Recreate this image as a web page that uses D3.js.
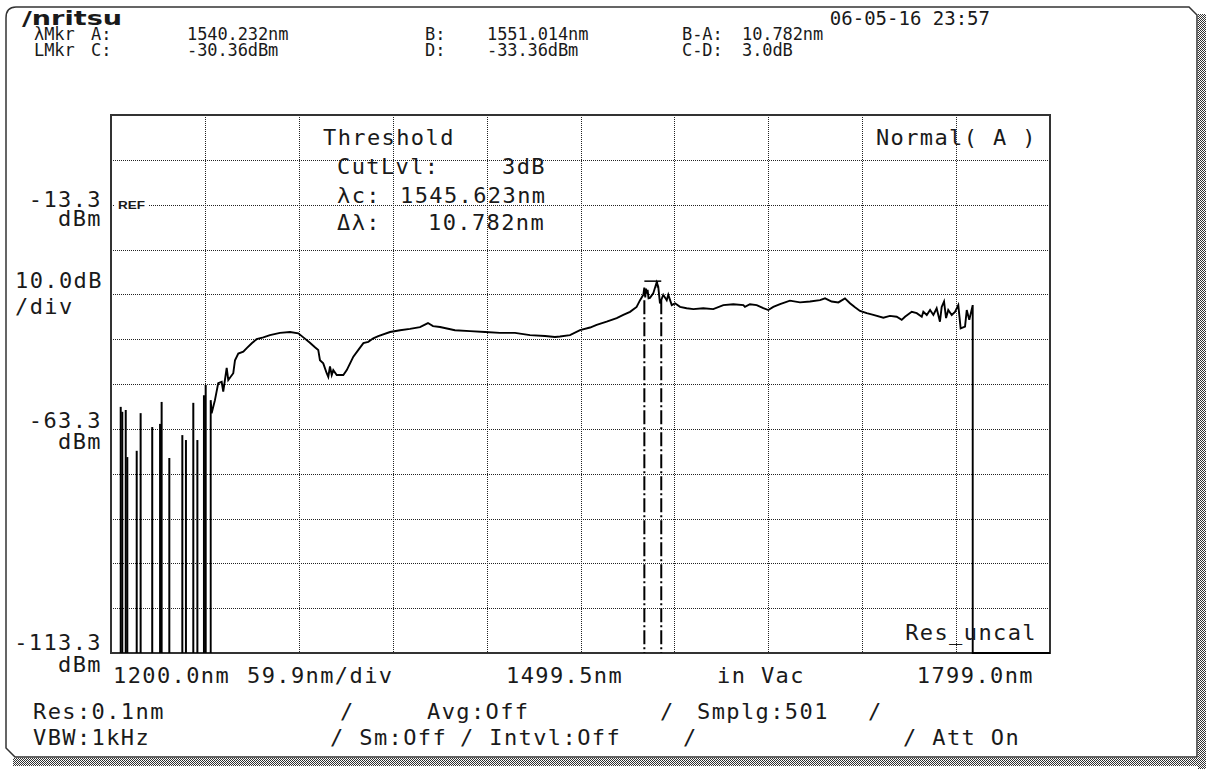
<!DOCTYPE html>
<html lang="en">
<head>
<meta charset="UTF-8">
<title>Optical Spectrum</title>
<script src="https://cdn.jsdelivr.net/npm/d3@7"></script>
<style>
  body { margin: 0; background: #fff; }
  text { font-family: "DejaVu Sans Mono", monospace; fill: #1a1a1a; }
  .grid line { stroke: #222; stroke-width: 1; stroke-dasharray: 1,1; shape-rendering: crispEdges; }
  .trace { fill: none; stroke: #000; stroke-width: 1.9; stroke-linejoin: miter; }
  .spike { stroke: #000; stroke-width: 2; }
  .mkr { stroke: #000; stroke-width: 2; stroke-dasharray: 14,3,2,3; }
  .big { font-size: 22px; letter-spacing: 1.4px; }
  .small { font-size: 17px; letter-spacing: -0.1px; }
</style>
</head>
<body>
<svg id="chart" width="1206" height="769"></svg>
<script>
// sweep: 1200.0 .. 1799.0 nm, 59.9 nm/div; REF -13.3 dBm, 10 dB/div
var xDomain = [1200, 1799];
var yDomain = [-113.3, 6.7];

// noise spikes at the short-wavelength end (nm, dBm)
var spikeWl = [1206.2, 1207.2, 1209.4, 1210.4, 1216.4, 1218.9, 1226.3, 1231.3,
               1232.3, 1237.2, 1245.5, 1247.8, 1252.5, 1255.1, 1259.3, 1260.4];
var spikeTop = [-58.4, -59.5, -59.1, -69.6, -68.2, -59.8, -62.9, -62.2,
                -57.3, -69.8, -64.7, -65.8, -57.5, -65.8, -55.8, -53.5];

// main trace vertices (nm, dBm); -115 = below screen
var traceWl = [1263.6, 1263.6, 1264.2, 1266.3, 1268.4, 1270.6, 1271.6, 1273.8, 1274.8, 1278.0,
  1279.1, 1281.2, 1284.4, 1286.6, 1289.8, 1292.9, 1297.2, 1301.4, 1307.8, 1314.2,
  1319.5, 1322.7, 1326.9, 1330.1, 1332.2, 1333.3, 1335.4, 1337.6, 1338.6, 1339.7,
  1340.8, 1341.8, 1344.0, 1348.2, 1350.4, 1352.5, 1354.6, 1357.8, 1361.0, 1364.1,
  1367.3, 1370.5, 1378.0, 1384.4, 1390.7, 1397.1, 1402.2, 1405.4, 1409.9, 1419.4,
  1429.0, 1438.6, 1448.1, 1457.7, 1467.3, 1476.9, 1483.2, 1486.4, 1492.8, 1499.2,
  1505.6, 1509.8, 1516.2, 1522.6, 1526.8, 1531.1, 1535.3, 1537.5, 1539.6, 1540.2,
  1540.8, 1541.3, 1541.7, 1542.3, 1542.9, 1543.8, 1545.9, 1548.1, 1549.1, 1550.2,
  1552.3, 1554.5, 1555.5, 1557.7, 1559.8,
  1563.0, 1567.2, 1571.5, 1577.8, 1584.2, 1590.6, 1597.0, 1603.4, 1604.4, 1607.6,
  1611.9, 1616.1, 1619.3, 1622.5, 1626.8, 1633.1, 1639.5, 1645.9, 1652.3, 1655.5,
  1659.7, 1664.0, 1668.2, 1671.4, 1674.6, 1677.8, 1682.1, 1686.3, 1692.7, 1696.9,
  1701.2, 1704.4, 1706.5, 1710.8, 1714.0, 1717.2, 1718.2, 1720.4, 1722.5, 1724.6,
  1726.7, 1728.8, 1729.9, 1731.4, 1732.7, 1734.1, 1736.3, 1738.4, 1740.5, 1742.0,
  1744.8, 1745.9, 1747.5, 1749.7, 1749.7, 1799.0];
var traceLvl = [-115, -56.9, -59.8, -56.9, -53.1, -52.8, -55.0, -49.7, -52.4, -50.9,
  -48.0, -46.5, -46.1, -45.3, -44.2, -43.3, -42.9, -42.4, -41.9, -41.7,
  -42.0, -42.9, -44.1, -45.1, -45.7, -48.0, -48.7, -50.9, -51.7, -49.4,
  -51.3, -50.2, -51.3, -51.3, -50.2, -48.7, -47.2, -45.7, -44.2, -43.9,
  -43.1, -42.6, -41.7, -41.3, -41.0, -40.6, -39.7, -40.4, -40.6, -41.3,
  -41.5, -41.7, -41.9, -41.9, -42.4, -42.6, -42.8, -42.7, -42.4, -41.3,
  -40.7, -40.1, -39.4, -38.6, -37.9, -37.2, -36.1, -34.6, -33.4, -31.8,
  -34.0, -32.0, -33.1, -32.3, -34.2, -34.1, -33.1, -30.6, -31.6, -35.3,
  -33.4, -34.6, -33.4, -35.7, -35.3,
  -36.1, -36.4, -36.6, -36.4, -36.6, -35.7, -35.5, -35.7, -36.1, -35.5,
  -35.7, -36.4, -36.8, -36.1, -35.5, -34.7, -35.1, -34.9, -34.6, -34.2,
  -34.9, -35.1, -34.2, -35.3, -36.2, -37.0, -37.5, -37.9, -38.5, -38.1,
  -38.3, -39.0, -38.3, -37.2, -37.5, -38.3, -37.2, -37.9, -36.8, -37.9,
  -36.4, -39.4, -36.1, -34.9, -38.6, -36.8, -37.9, -37.2, -35.7, -40.9,
  -40.5, -36.8, -39.0, -35.7, -115, -115];

// markers
var markerWl = [1540.232, 1551.014];   // A, B
var markerLvl = [-30.36, -33.36];      // C, D
var peakWl = 1548.5;

// screen texts
var headerRow1 = ["\u03bbMkr", "A:", "1540.232nm", "B:", "1551.014nm", "B-A:", "10.782nm"];
var headerRow2 = ["LMkr", "C:", "-30.36dBm", "D:", "-33.36dBm", "C-D:", "3.0dB"];
var thresholdLines = ["Threshold", "CutLvl:", "\u03bbc:", "\u0394\u03bb:"];
var thresholdValues = ["", "3dB", "1545.623nm", "10.782nm"];
var yLabels = ["-13.3", "dBm", "-63.3", "dBm", "-113.3", "dBm"];
var xLabels = ["1200.0nm", "59.9nm/div", "1499.5nm", "in Vac", "1799.0nm"];
var statusRow1 = ["Res:0.1nm", "/", "Avg:Off", "/", "Smplg:501", "/"];
var statusRow2 = ["VBW:1kHz", "/ Sm:Off", "/ Intvl:Off", "/", "/ Att On"];

var svg = d3.select("#chart");
var plotL = 111, plotT = 115, plotR = 1050, plotB = 653;

var x = d3.scaleLinear().domain(xDomain).range([plotL, plotR]);
var y = d3.scaleLinear().domain(yDomain).range([plotB, plotT]).clamp(true);

// checker shadow
var defs = svg.append("defs");
var pat = defs.append("pattern").attr("id", "hatch")
    .attr("width", 2).attr("height", 2).attr("patternUnits", "userSpaceOnUse");
pat.append("rect").attr("width", 2).attr("height", 2).attr("fill", "#fff");
pat.append("rect").attr("width", 1).attr("height", 1).attr("fill", "#333");
pat.append("rect").attr("x", 1).attr("y", 1).attr("width", 1).attr("height", 1).attr("fill", "#333");

svg.append("rect").attr("x", 1198).attr("y", 14).attr("width", 8).attr("height", 755).attr("fill", "url(#hatch)");
svg.append("rect").attr("x", 13).attr("y", 758).attr("width", 1193).attr("height", 8).attr("fill", "url(#hatch)");

// outer panel
svg.append("path")
    .attr("d", "M6,18 Q6,7 16,7 L1189,7 L1197,15 L1197,757 L15,757 L6,748 Z")
    .attr("fill", "#fff").attr("stroke", "#333").attr("stroke-width", 1.5);

// grid
var grid = svg.append("g").attr("class", "grid");
grid.selectAll(".vx").data(d3.range(1, 10)).enter().append("line")
    .attr("x1", function(i) { return Math.round(x(1200 + i * 59.9)) + 0.5; })
    .attr("x2", function(i) { return Math.round(x(1200 + i * 59.9)) + 0.5; })
    .attr("y1", plotT).attr("y2", plotB);
grid.selectAll(".hy").data(d3.range(1, 12)).enter().append("line")
    .attr("y1", function(i) { return Math.round(y(-113.3 + i * 10)) + 0.5; })
    .attr("y2", function(i) { return Math.round(y(-113.3 + i * 10)) + 0.5; })
    .attr("x1", plotL).attr("x2", plotR);

// REF tag
svg.append("rect").attr("x", plotL + 3).attr("y", y(-13.3) - 7).attr("width", 34).attr("height", 13).attr("fill", "#fff");
svg.append("text").attr("x", plotL + 7).attr("y", y(-13.3) + 4)
    .style("font-family", "Liberation Sans, Arial, sans-serif").style("font-size", "11px")
    .style("font-weight", "bold").attr("textLength", 27).attr("lengthAdjust", "spacingAndGlyphs")
    .text("REF");

// plot frame
svg.append("rect").attr("x", plotL).attr("y", plotT).attr("width", plotR - plotL).attr("height", plotB - plotT)
    .attr("fill", "none").attr("stroke", "#333").attr("stroke-width", 2);

// noise spikes
svg.selectAll(".spike").data(spikeWl).enter().append("line")
    .attr("class", "spike")
    .attr("x1", function(d) { return x(d); }).attr("x2", function(d) { return x(d); })
    .attr("y1", y(-115))
    .attr("y2", function(d, i) { return y(spikeTop[i]); });

// trace
var line = d3.line()
    .x(function(d) { return x(d[0]); })
    .y(function(d) { return y(d[1]); });
svg.append("path").attr("class", "trace")
    .attr("d", line(d3.zip(traceWl, traceLvl)));

// wavelength markers A / B
svg.selectAll(".mkr").data(markerWl).enter().append("line")
    .attr("class", "mkr")
    .attr("x1", function(d) { return x(d); }).attr("x2", function(d) { return x(d); })
    .attr("y1", y(-34.6)).attr("y2", plotB);

// peak cap at level C
svg.append("line").attr("x1", x(markerWl[0])).attr("x2", x(markerWl[1]))
    .attr("y1", y(markerLvl[0])).attr("y2", y(markerLvl[0]))
    .attr("stroke", "#000").attr("stroke-width", 1.5);
svg.append("line").attr("x1", x(peakWl)).attr("x2", x(peakWl))
    .attr("y1", y(markerLvl[0])).attr("y2", y(-31.8))
    .attr("stroke", "#000").attr("stroke-width", 1.5);

function put(t, xx, yy, cls, anchor) {
  return svg.append("text").attr("class", cls).attr("x", xx).attr("y", yy)
      .attr("text-anchor", anchor || "start").text(t);
}

// header
svg.append("text").attr("x", 22).attr("y", 25)
    .style("font-family", "DejaVu Sans, sans-serif").style("font-weight", "bold")
    .style("font-size", "19px").attr("textLength", 100).attr("lengthAdjust", "spacingAndGlyphs")
    .text("/nritsu");
put("06-05-16 23:57", 990, 25, "small", "end").style("font-size", "19px").style("letter-spacing", "0px");

var headerX = [34, 91, 187, 425, 487, 682, 742];
headerRow1.forEach(function(t, i) { put(t, headerX[i], 40, "small"); });
headerRow2.forEach(function(t, i) { put(t, headerX[i], 56, "small"); });

// threshold readout
var thrX = [323, 337, 337, 337], thrY = [145, 174, 203, 230], thrVX = [0, 502, 400, 428];
thresholdLines.forEach(function(t, i) {
  put(t, thrX[i], thrY[i], "big");
  if (thresholdValues[i]) put(thresholdValues[i], thrVX[i], thrY[i], "big");
});
put("Normal( A )", 1037, 145, "big", "end");
put("Res_uncal", 1037, 640, "big", "end");

// y axis labels
var yLabY = [207, 226, 428, 449, 650, 672];
yLabels.forEach(function(t, i) { put(t, 102, yLabY[i], "big", "end"); });
put("10.0dB", 15, 288, "big");
put("/div", 15, 314, "big");

// x labels
var xLabX = [113, 247, 506, 717, 1034];
xLabels.forEach(function(t, i) { put(t, xLabX[i], 683, "big", i === 4 ? "end" : "start"); });

// status rows
var st1X = [33, 340, 427, 660, 697, 868], st2X = [33, 330, 460, 683, 903];
statusRow1.forEach(function(t, i) { put(t, st1X[i], 719, "big"); });
statusRow2.forEach(function(t, i) { put(t, st2X[i], 745, "big"); });
</script>
</body>
</html>
